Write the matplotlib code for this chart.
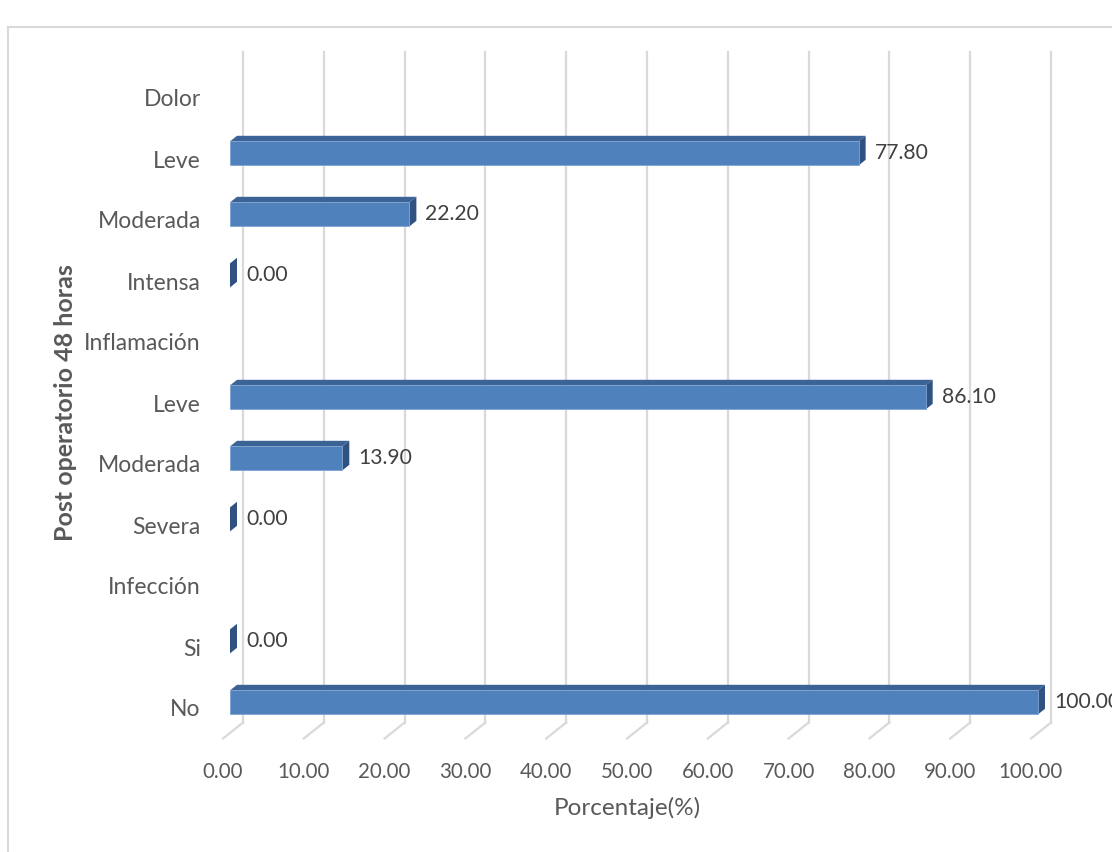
import matplotlib
matplotlib.use("Agg")
import matplotlib.pyplot as plt
from matplotlib.patches import Polygon
from matplotlib.lines import Line2D

plt.rcParams['font.family'] = ['Lato', 'DejaVu Sans']

# data (bottom to top)
categorias = ['No', 'Si', 'Infección', 'Severa', 'Moderada', 'Leve',
              'Inflamación', 'Intensa', 'Moderada', 'Leve', 'Dolor']
valores = [100.00, 0.00, None, 0.00, 13.90, 86.10, None, 0.00, 22.20, 77.80, None]
xticks = [0, 10, 20, 30, 40, 50, 60, 70, 80, 90, 100]

gris = '#595959'
frente = '#4F81BD'
tapa = '#3C6396'
lado = '#2F5281'

W, H = 1112, 852
fig = plt.figure(figsize=(W / 100, H / 100), dpi=100)
# axes = front plane of the 3D floor
ax = fig.add_axes([223 / W, (H - 738.5) / H, 808 / W, 671 / H])
ax.set_xlim(0, 100)
ax.set_ylim(-0.5, 10.5)
for s in ax.spines.values():
    s.set_visible(False)
ax.patch.set_alpha(0)

# depth of the 3D box, in pixels
DX, DY = 20, 16
sx = 808 / 100.0
sy = 671 / 11.0


def proj(v, y, d):
    return (v + d * DX / sx, y + d * DY / sy)


# back-wall gridlines and floor lines
for v in xticks:
    a = proj(v, -0.5, 1)
    b = proj(v, 10.5, 1)
    c = proj(v, -0.5, 0)
    ax.add_line(Line2D([a[0], b[0]], [a[1], b[1]], color='#D9D9D9', lw=1.6,
                       clip_on=False, zorder=1))
    ax.add_line(Line2D([a[0], c[0]], [a[1], c[1]], color='#D9D9D9', lw=1.6,
                       clip_on=False, zorder=1))

# 3D bars
h = 24 / sy
d0, d1 = 0.35, 0.7
for i, val in enumerate(valores):
    if val is None:
        continue
    y0, y1 = i - h / 2, i + h / 2
    top = [proj(0, y1, d0), proj(val, y1, d0), proj(val, y1, d1), proj(0, y1, d1)]
    side = [proj(val, y0, d0), proj(val, y1, d0), proj(val, y1, d1), proj(val, y0, d1)]
    front = [proj(0, y0, d0), proj(val, y0, d0), proj(val, y1, d0), proj(0, y1, d0)]
    ax.add_patch(Polygon(top, closed=True, fc=tapa, ec='none', zorder=3, clip_on=False))
    ax.add_patch(Polygon(side, closed=True, fc=lado, ec='none', zorder=3, clip_on=False))
    if val > 0:
        ax.add_patch(Polygon(front, closed=True, fc=frente, ec='#7FA3D3', lw=0.6,
                             zorder=4, clip_on=False))
    ly = proj(val, i, d0)[1]
    lx = proj(val, i, d1)[0] + 9 / sx
    ax.text(lx, ly, f'{val:.2f}', color='#404040', fontsize=15.2,
            ha='left', va='center', zorder=5, clip_on=False)

ax.set_yticks(range(len(categorias)))
ax.set_yticklabels(categorias)
ax.set_xticks(xticks)
ax.set_xticklabels([f'{v:.2f}' for v in xticks])
ax.tick_params(axis='y', length=0, pad=16, labelsize=16.5, labelcolor=gris)
ax.tick_params(axis='x', length=0, pad=17, labelsize=14.8, labelcolor=gris)
ax.set_xlabel('Porcentaje(%)', fontsize=17.5, color=gris, labelpad=11)
ax.set_ylabel('Post operatorio 48 horas', fontsize=18, color=gris,
              fontweight='bold', labelpad=5)

# chart area border
fig.add_artist(Line2D([8 / W, 8 / W], [0, 1 - 27 / H], color='#D9D9D9', lw=1.5))
fig.add_artist(Line2D([8 / W, 1], [1 - 27 / H, 1 - 27 / H], color='#D9D9D9', lw=1.5))

fig.savefig('out.png', dpi=100)
